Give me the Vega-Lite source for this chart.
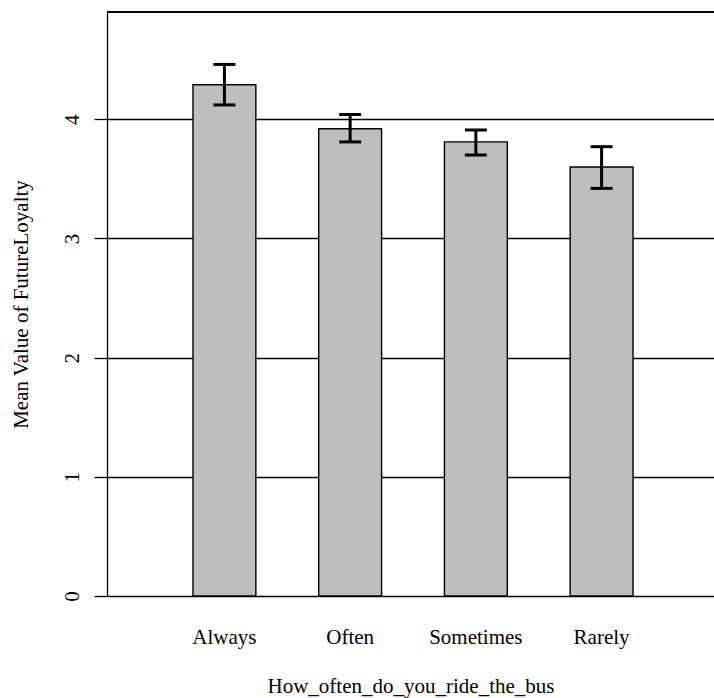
{
  "$schema": "https://vega.github.io/schema/vega-lite/v6.json",
  "autosize": "none",
  "width": 607,
  "height": 584,
  "padding": {"left": 107, "top": 12, "right": 0, "bottom": 102},
  "background": "white",
  "config": {
    "view": {"stroke": null},
    "font": "Liberation Serif",
    "axis": {
      "labelFont": "Liberation Serif",
      "titleFont": "Liberation Serif",
      "labelFontSize": 21,
      "titleFontSize": 21,
      "labelColor": "black",
      "titleColor": "black",
      "titleFontWeight": "normal"
    }
  },
  "data": {
    "values": [
      {"freq": "Always", "mean": 4.29, "lo": 4.12, "hi": 4.46},
      {"freq": "Often", "mean": 3.92, "lo": 3.81, "hi": 4.04},
      {"freq": "Sometimes", "mean": 3.81, "lo": 3.70, "hi": 3.91},
      {"freq": "Rarely", "mean": 3.60, "lo": 3.42, "hi": 3.77}
    ]
  },
  "encoding": {
    "x": {
      "field": "freq", "type": "nominal", "sort": null,
      "scale": {"paddingInner": 0.5, "paddingOuter": 0.664, "align": 0.515},
      "axis": {
        "orient": "bottom", "title": "How_often_do_you_ride_the_bus",
        "labelAngle": 0, "domain": false, "ticks": false, "tickSize": 0,
        "labelBaseline": "alphabetic", "labelPadding": 47,
        "titleBaseline": "alphabetic", "titleY": 96, "titleAnchor": "middle"
      }
    }
  },
  "layer": [
    {
      "mark": {"type": "bar", "fill": "#bebebe", "stroke": "black", "strokeWidth": 1.4},
      "encoding": {
        "y": {
          "field": "mean", "type": "quantitative",
          "scale": {"domain": [0, 4.9], "nice": false, "zero": true},
          "axis": {
            "title": "Mean Value of FutureLoyalty",
            "values": [0, 1, 2, 3, 4], "format": "d",
            "grid": true, "gridColor": "black", "gridWidth": 1.3, "gridOpacity": 1,
            "domain": true, "domainColor": "black", "domainWidth": 1.3,
            "ticks": true, "tickSize": 13, "tickColor": "black", "tickWidth": 1.3,
            "labelAngle": -90, "labelAlign": "center", "labelBaseline": "alphabetic",
            "labelPadding": 16,
            "titleAngle": -90, "titleAlign": "center", "titleBaseline": "alphabetic",
            "titleX": -80, "titleY": 292
          }
        }
      }
    },
    {
      "mark": {"type": "rule", "color": "black", "strokeWidth": 3},
      "encoding": {
        "y": {"field": "lo", "type": "quantitative"},
        "y2": {"field": "hi"}
      }
    },
    {
      "mark": {"type": "tick", "color": "black", "opacity": 1, "size": 22, "thickness": 3, "orient": "horizontal"},
      "encoding": {
        "y": {"field": "lo", "type": "quantitative"}
      }
    },
    {
      "mark": {"type": "tick", "color": "black", "opacity": 1, "size": 22, "thickness": 3, "orient": "horizontal"},
      "encoding": {
        "y": {"field": "hi", "type": "quantitative"}
      }
    },
    {
      "mark": {"type": "rule", "color": "black", "strokeWidth": 1.3},
      "encoding": {
        "x": {"value": 0},
        "x2": {"value": 607},
        "y": {"datum": 4.9, "type": "quantitative"}
      }
    }
  ]
}
